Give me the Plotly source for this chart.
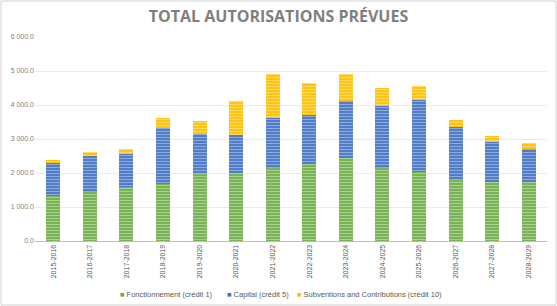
import plotly.graph_objects as go

annees = ["2015-2016", "2016-2017", "2017-2018", "2018-2019", "2019-2020",
          "2020-2021", "2021-2022", "2022-2023", "2023-2024", "2024-2025",
          "2025-2026", "2026-2027", "2027-2028", "2028-2029"]

fonctionnement = [1320, 1450, 1580, 1690, 2010, 2010, 2160, 2260, 2440, 2160,
                  2030, 1790, 1750, 1730]
capital = [970, 1060, 980, 1630, 1140, 1120, 1470, 1440, 1690, 1820,
           2110, 1550, 1160, 970]
subventions = [80, 120, 160, 290, 390, 1000, 1280, 960, 780, 510,
               420, 210, 180, 170]

series = [
    ("Fonctionnement (crédit 1)", fonctionnement, "#70AD47"),
    ("Capital (crédit 5)", capital, "#4472C4"),
    ("Subventions and Contributions (crédit 10)", subventions, "#FFC000"),
]

fig = go.Figure()
for nom, valeurs, couleur in series:
    fig.add_trace(
        go.Bar(
            x = annees,
            y = valeurs,
            name = nom,
            marker = dict(
                color = couleur,
                line = dict(width = 0),
                pattern = dict(shape = "-", fgcolor = "white", fgopacity = 0.4,
                               size = 3, solidity = 0.45),
            ),
        )
    )

L, R, T, B = 35, 10, 37, 65
pw, ph = 557 - L - R, 306 - T - B

# légende façon Excel : petit carré collé au texte
positions_legende = [118, 225, 295]
for (nom, valeurs, couleur), px_x in zip(series, positions_legende):
    fig.add_annotation(
        xref = "paper", yref = "paper",
        x = (px_x - L) / pw, y = (T + ph - 294) / ph,
        xanchor = "left", yanchor = "middle", showarrow = False,
        text = f"<span style='color:{couleur}'>■</span> {nom}",
        font = dict(size = 7.5, color = "#595959"),
    )

# cadre gris autour du graphique
fig.add_shape(
    type = "rect", xref = "paper", yref = "paper",
    x0 = (1 - L) / pw, x1 = (556 - L) / pw,
    y0 = (T + ph - 305) / ph, y1 = (T + ph - 1) / ph,
    line = dict(color = "#d0d0d0", width = 1),
)

fig.update_layout(
    width = 557, height = 306,
    barmode = "stack",
    bargap = 0.62,
    separators = ". ",
    plot_bgcolor = "white",
    paper_bgcolor = "white",
    font = dict(family = "Liberation Sans", color = "#595959", size = 7),
    margin = dict(l = L, r = R, t = T, b = B, autoexpand = False),
    title = dict(
        text = "<b>TOTAL AUTORISATIONS PRÉVUES</b>",
        x = 0.5, xanchor = "center", y = 0.945, yanchor = "middle",
        font = dict(family = "Open Sans", size = 16, color = "#7f7f7f"),
    ),
    showlegend = False,
)

fig.update_yaxes(
    range = [0, 6000], dtick = 1000, tickformat = ",.1f", automargin = False,
    showgrid = True, gridcolor = "#ececec", gridwidth = 1,
    zeroline = False, ticks = "", tickfont = dict(size = 7, color = "#7f7f7f"),
)
fig.update_xaxes(
    tickangle = -90, showline = True, linecolor = "#bfbfbf", linewidth = 1,
    automargin = False,
    showgrid = False, ticks = "", tickfont = dict(size = 7, color = "#595959"),
)

# pas de marge de page autour du graphique, pas de barre d'outils
fig.write_html(
    "out.html",
    config = {"displayModeBar": False},
    post_script = "document.body.style.margin = '0';",
)
